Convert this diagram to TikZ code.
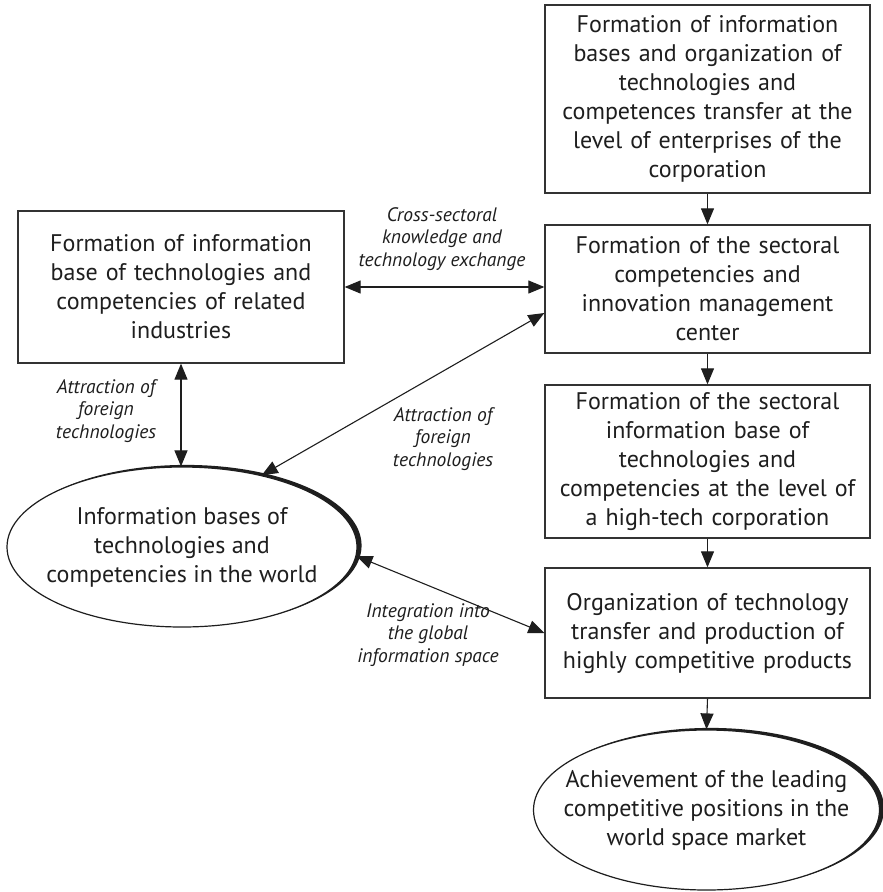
\documentclass[tikz,border=0pt]{standalone}
\usepackage{fontspec}
\setmainfont{PT Sans}
\usetikzlibrary{arrows.meta,shapes.geometric,calc}

\definecolor{ink}{HTML}{1E1E1E}
\definecolor{frame}{HTML}{333333}

\tikzset{
  boxtext/.style={font=\fontsize{24}{29}\selectfont, text=ink, align=center},
  stepbox/.style={boxtext, draw=frame, line width=1.3pt, rectangle,
    minimum width=325pt, inner sep=0pt, text width=322pt},
  oval/.style={ellipse, draw=ink, fill=white, line width=1.2pt, inner sep=0pt},
  note/.style={font=\fontsize{19.5}{22.5}\selectfont\itshape, text=ink, align=center},
  link/.style={draw=ink, line width=1.1pt},
  tip/.tip={Triangle[length=16pt,width=13pt]},
  flow/.style={link, -tip},
  both/.style={link, tip-tip},
}

\begin{document}
\begin{tikzpicture}[x=1pt,y=-1pt]
\useasboundingbox (0,0) rectangle (883,892);
\fill[white] (0,0) rectangle (883,892);

% right-hand column of process steps
\node[stepbox, minimum height=188pt] (b1) at (707.5,99)
  {Formation of information\\ bases and organization of\\ technologies and\\ competences transfer at the\\ level of enterprises of the\\ corporation};
\node[stepbox, minimum height=128pt] (b2) at (707.5,289)
  {Formation of the sectoral\\ competencies and\\ innovation management\\ center};
\node[stepbox, minimum height=153pt] (b3) at (707.5,461.5)
  {Formation of the sectoral\\ information base of\\ technologies and\\ competencies at the level of\\ a high-tech corporation};
\node[stepbox, minimum height=130pt] (b4) at (707.5,633)
  {Organization of technology\\ transfer and production of\\ highly competitive products};

% related industries
\node[stepbox, minimum width=326pt, minimum height=152pt] (lb) at (181,287)
  {Formation of information\\ base of technologies and\\ competencies of related\\ industries};

% ovals with a heavier stroke towards the upper right
\fill[ink] (186,545.5) ellipse [x radius=175.6, y radius=80.6];
\node[oval, minimum width=350pt, minimum height=160pt,
  label={[boxtext]center:Information bases of\\ technologies and\\ competencies in the world}]
  (e1) at (182,547) {};

\fill[ink] (710.5,808.5) ellipse [x radius=173.6, y radius=80.6];
\node[oval, minimum width=346pt, minimum height=160pt,
  label={[boxtext]center:Achievement of the leading\\ competitive positions in the\\ world space market}]
  (e2) at (706.5,810) {};

% connectors
\draw[flow] (b1.south) -- (b2.north);
\draw[flow] (b2.south) -- (b3.north);
\draw[flow] (b3.south) -- (b4.north);
\draw[flow] (b4.south) -- (e2.north);

\draw[both] (lb.east) -- (lb.east -| b2.west);
\draw[both] (lb.south) -- (lb.south |- e1.north);

\coordinate (b2in) at ([yshift=-24pt]b2.west);
\draw[both] (e1.42) -- (b2in);
\draw[both] (e1.-3) -- (b4.west);

% connector labels
\node[note] (n1) at (442,239) {Cross-sectoral\\ knowledge and\\ technology exchange};
\node[note] (n2) at (106,411) {Attraction of\\ foreign\\ technologies};
\node[note] (n3) at (443,439) {Attraction of\\ foreign\\ technologies};
\node[note] (n4) at (428,635) {Integration into\\ the global\\ information space};
\end{tikzpicture}
\end{document}
